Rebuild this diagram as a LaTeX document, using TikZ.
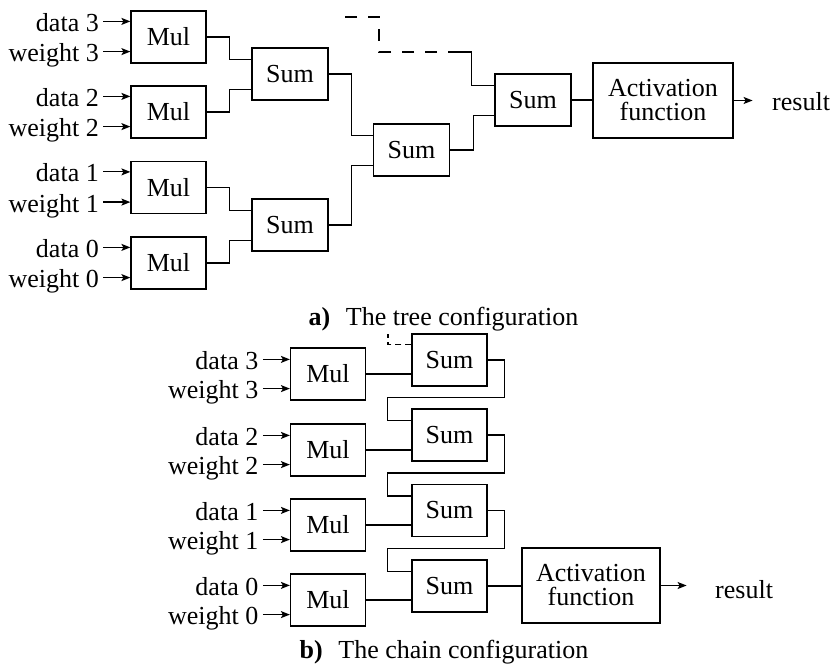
\documentclass[tikz,border=0pt]{standalone}
\usepackage{fontspec}
\setmainfont{Liberation Serif}
\usetikzlibrary{arrows.meta,calc}

\tikzset{
  box/.style={draw, line width=1.2pt, minimum width=75pt, minimum height=52pt, inner sep=0pt},
  actbox/.style={draw, line width=1.2pt, minimum height=75pt, inner sep=0pt, align=center},
  wire/.style={line width=1.2pt},
  dashwire/.style={line width=1.2pt, dash pattern=on 12pt off 11pt, dash phase=12pt},
  shortdash/.style={line width=1.2pt, dash pattern=on 6pt off 4pt},
  arr/.style={line width=1.2pt, -{Stealth[length=9pt,width=7pt,inset=2pt]}},
  lbl/.style={anchor=base east, inner xsep=4pt, inner ysep=0pt, yshift=-10pt},
  captext/.style={anchor=base, inner sep=0pt}
}

\begin{document}
\begin{tikzpicture}[x=1pt, y=-1pt, font=\fontsize{26}{24}\selectfont]
\useasboundingbox (0,0) rectangle (834,668);

% ---------- a) tree ----------
\node[box] (m3) at (168.5,37)  {Mul};
\node[box] (m2) at (168.5,112) {Mul};
\node[box] (m1) at (168.5,187.5) {Mul};
\node[box] (m0) at (168.5,263) {Mul};

\node[box, minimum width=76pt] (sa) at (290,74)  {Sum};
\node[box, minimum width=76pt] (sb) at (290,225) {Sum};
\node[box, minimum width=76pt] (sc) at (411.5,150) {Sum};
\node[box, minimum width=76pt] (sd) at (533,100) {Sum};

\node[actbox, minimum width=140pt] (act1) at (663,100.5) {Activation\\function};

% inputs of the multipliers
\foreach \m/\k in {m3/3, m2/2, m1/1, m0/0} {
  \draw[arr] ([yshift=-11pt]\m.north west) ++(-27,0) node[lbl] (td\k) {data \k} -- ([yshift=-11pt]\m.north west);
  \draw[arr] ([yshift=12pt]\m.south west) ++(-27,0) node[lbl] (tw\k) {weight \k} -- ([yshift=12pt]\m.south west);
}

% adder tree
\draw[wire] (m3.east) -- ++(23,0) |- ([yshift=-12pt]sa.north west);
\draw[wire] (m2.east) -- ++(23,0) |- ([yshift=11pt]sa.south west);
\draw[wire] (m1.east) -- ++(23,0) |- ([yshift=-12pt]sb.north west);
\draw[wire] (m0.east) -- ++(23,0) |- ([yshift=11pt]sb.south west);
\draw[wire] (sa.east) -- ++(23,0) |- ([yshift=-12pt]sc.north west);
\draw[wire] (sb.east) -- ++(23,0) |- ([yshift=11pt]sc.south west);
\draw[wire] (sc.east) -- ++(23,0) |- ([yshift=11pt]sd.south west);

% bias / previous partial sum entering the last adder
\coordinate (tfree) at (345,17);
\coordinate (tjoin) at (448,52);
\draw[wire] ([yshift=-12pt]sd.north west) -- ++(-23,0) |- (tjoin);
\draw[dashwire] (tjoin) -| (379,17) -- (tfree);

\draw[wire] (sd.east) -- (sd.east -| act1.west);
\draw[arr] (act1.east) -- ++(19,0) coordinate (tres);
\node[anchor=base west, inner sep=0pt] (r1) at (772,111) {result};

\node[captext] (capa) at (443.5,325) {\textbf{a)}\hspace{0.6em}The tree configuration};

% ---------- b) chain ----------
\node[box] (n3) at (328,374) {Mul};
\node[box] (n2) at (328,450) {Mul};
\node[box] (n1) at (328,525) {Mul};
\node[box] (n0) at (328,600) {Mul};

\node[box] (u3) at (449.5,360)   {Sum};
\node[box] (u2) at (449.5,435)   {Sum};
\node[box] (u1) at (449.5,510.5) {Sum};
\node[box] (u0) at (449.5,586)   {Sum};

\node[actbox, minimum width=138pt] (act2) at (591,585.5) {Activation\\function};

\foreach \m/\k in {n3/3, n2/2, n1/1, n0/0} {
  \draw[arr] ([yshift=-12pt]\m.north west) ++(-27,0) node[lbl] (cd\k) {data \k} -- ([yshift=-12pt]\m.north west);
  \draw[arr] ([yshift=12pt]\m.south west) ++(-27,0) node[lbl] (cw\k) {weight \k} -- ([yshift=12pt]\m.south west);
}

% products into the chain of adders
\foreach \m/\s in {n3/u3, n2/u2, n1/u1, n0/u0}
  \draw[wire] (\m.east) -- (\m.east -| \s.west);

% each sum feeds the next adder
\foreach \a/\b in {u3/u2, u2/u1, u1/u0}
  \draw[wire] (\a.east) -- ++(17,0) |- ([xshift=-24pt,yshift=11pt]\b.north west)
              |- ([yshift=-12pt]\b.north west);

\coordinate (cfree) at (388,334);
\draw[shortdash] ([yshift=-11pt]u3.north west) -| (cfree);

\draw[wire] (u0.east) -- (u0.east -| act2.west);
\draw[arr] (act2.east) -- ++(26,0) coordinate (cres);
\node[anchor=base west, inner sep=0pt] (r2) at (715,598) {result};

\node[captext] (capb) at (444,658) {\textbf{b)}\hspace{0.6em}The chain configuration};
\end{tikzpicture}
\end{document}
